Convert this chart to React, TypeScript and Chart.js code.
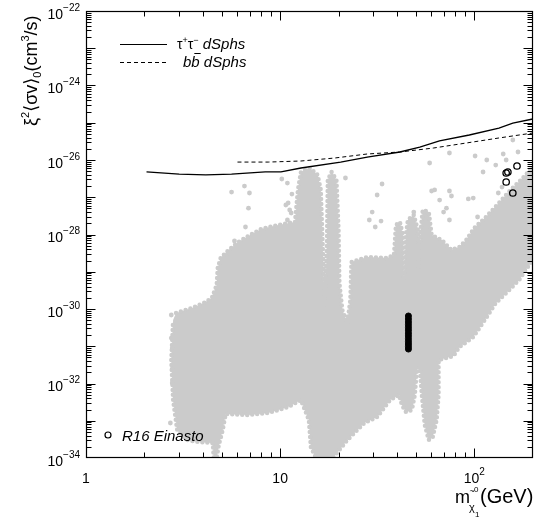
import React, { useEffect, useRef } from 'react';
import { Chart, registerables } from 'chart.js';

Chart.register(...registerables);

// ---- axis ranges / ticks ----
const massRange = [1, 200];
const sigmaRange = [1e-34, 1e-22];
const xLabelValues = [1, 10, 100];
const xLabelBase = ['1', '10', '10'];
const xLabelExp = ['', '', '2'];
const yLabelValues = [1e-22, 1e-24, 1e-26, 1e-28, 1e-30, 1e-32, 1e-34];
const yLabelExp = ['\u221222', '\u221224', '\u221226', '\u221228', '\u221230', '\u221232', '\u221234'];
const yDecades = [-34, -33, -32, -31, -30, -29, -28, -27, -26, -25, -24, -23, -22];
const xDecades = [0, 1, 2];

// ---- dSphs limits ----
const tauMass = [2.05, 3.02, 4.14, 5.62, 8.38, 10.1, 12.8, 20.5, 28.1, 41.4, 52.4, 66.2, 94.3, 134, 158, 200];
const tauSigma = [4.8e-27, 4.2e-27, 4.0e-27, 4.2e-27, 4.8e-27, 4.8e-27, 6.1e-27, 8.8e-27, 1.2e-26, 1.64e-26, 2.23e-26, 3.24e-26, 4.69e-26, 7.22e-26, 9.8e-26, 1.26e-25];
const bbMass = [6.03, 8.69, 12.8, 19.1, 28.1, 41.4, 61.8, 91, 134, 200];
const bbSigma = [8.8e-27, 8.8e-27, 9.4e-27, 1.13e-26, 1.45e-26, 1.64e-26, 2.1e-26, 2.86e-26, 3.9e-26, 5.3e-26];

// ---- R16 Einasto points ----
const einastoMass = [146, 149, 146, 166, 158];
const einastoSigma = [4.48e-27, 4.76e-27, 2.57e-27, 6.9e-27, 1.3e-27];
const bandMass = [45.8, 45.8, 45.8, 45.8, 45.8, 45.8, 45.8, 45.8, 45.8, 45.8, 45.8, 45.8, 45.8];
const bandSigma = [6.5e-31, 5.4e-31, 4.5e-31, 3.8e-31, 3.2e-31, 2.7e-31, 2.25e-31, 1.9e-31, 1.6e-31, 1.35e-31, 1.15e-31, 9.8e-32, 8.4e-32];

// ---- scan cloud outline (gray region) ----
const cloudMass = [2.91, 3.52, 4.05, 4.45, 4.71, 4.77, 4.94, 5.43, 6.10, 6.87, 8.00, 9.77, 11.93,
  12.35, 12.8, 14.2, 15.6, 16.2, 16.6, 16.97, 17.4, 17.6, 18.4, 19.5, 20.0,
  20.2, 20.9, 22.2, 23.0, 23.3, 28.1, 35.6, 38.6,
  39.5, 41.4, 42.9, 43.4, 44.5, 45.5, 48.8, 51.2, 51.8, 53.0, 54.3, 58.3,
  60.3, 67.9, 76.3, 83.8, 91.0, 100, 115, 134, 154, 174, 200,
  200, 184, 170, 146, 129, 115, 98.8, 83.8, 78.2, 65.5,
  65.5, 64.0, 61.1, 58.3, 55.6, 53.7, 52.4, 50.6, 49.4, 47.7, 44.5, 42.4, 41.0,
  36.8, 31.6, 27.1, 22.2, 19.8, 18.6, 15.3, 14.4, 14.06, 12.8, 10.98, 8.69,
  6.87, 5.24, 5.06, 4.83, 4.71, 4.55, 4.50, 3.82, 3.31, 2.95, 2.81, 2.75, 2.81];
const cloudSigma = [7.8e-31, 1.06e-30, 1.45e-30, 1.97e-30, 4.4e-30, 1.26e-29, 2.34e-29, 3.84e-29, 6.3e-29, 9.1e-29, 1.41e-28, 1.8e-28, 2.17e-28,
  1.57e-27, 4.76e-27, 6.1e-27, 3.96e-27, 1.57e-27, 3.84e-29, 1.28e-30, 3.84e-29, 2.9e-27, 4.76e-27, 2.9e-27, 1.32e-28,
  4.99e-30, 9.4e-31, 4.2e-31, 1.75e-30, 1.83e-29, 2.49e-29, 2.34e-29, 2.82e-29,
  1.8e-28, 2.17e-28, 9.7e-29, 6.0e-30, 9.7e-29, 2.45e-28, 3.34e-28, 1.32e-28, 1.26e-29, 1.32e-28, 4.55e-28, 4.0e-28,
  9.7e-29, 7.1e-29, 3.84e-29, 4.6e-29, 7.1e-29, 1.49e-28, 2.95e-28, 7.0e-28, 1.57e-27, 2.9e-27, 6.5e-27,
  2.07e-29, 1.11e-29, 6.0e-30, 2.69e-30, 1.45e-30, 5.7e-31, 1.77e-31, 9.5e-32, 5.5e-32, 4.28e-32,
  4.9e-33, 1.05e-33, 3.66e-34, 3.04e-34, 7.7e-34, 4.9e-33, 2.77e-32, 2.3e-32, 4.9e-33, 1.95e-33, 1.72e-33, 2.65e-33, 4.9e-33,
  3.6e-33, 1.26e-33, 8.7e-34, 3.04e-34, 1.45e-34, 1.0e-34, 1.0e-34, 1.97e-34, 1.05e-33, 3.6e-33, 2.34e-33, 1.62e-33,
  1.43e-33, 1.52e-33, 5.6e-34, 2.23e-34, 1.0e-34, 1.0e-34, 2.53e-34, 2.69e-34, 3.04e-34, 5.6e-34, 3.6e-33, 4.28e-32, 5.07e-31];

// ---- isolated scan points outside the dense cloud ----
const dotMass = [5.62, 6.55, 6.95, 6.87, 6.63, 5.82, 5.43,
  10.2, 10.9, 11.5, 10.7, 11.2, 10.9, 11.0, 11.4,
  2.75, 2.75, 2.78, 2.78, 2.78, 2.72,
  21.7, 33.5, 31.6, 29.8, 28.8, 30.9, 33.1,
  58.9, 74.5, 101, 116, 141, 158, 168,
  60.3, 62.5, 74.5, 66.3, 76.3, 93.2, 98.8, 111, 129, 146, 133, 139,
  48.8, 69.5, 71.9, 74.5, 104];
const dotSigma = [1.38e-27, 2.0e-27, 1.3e-27, 5.1e-28, 1.59e-28, 6.7e-29, 3.18e-29,
  3.09e-27, 2.4e-27, 1.22e-27, 6.2e-28, 4.55e-28, 2.45e-28, 7.0e-28, 3.78e-28,
  6.9e-31, 1.66e-31, 9.0e-32, 2.45e-32, 1.03e-32, 8.7e-34,
  3.29e-27, 2.27e-27, 1.15e-27, 4.0e-28, 2.45e-28, 1.59e-28, 2.3e-28,
  8.3e-27, 1.54e-26, 1.28e-26, 1.0e-26, 1.45e-26, 3.44e-26, 1.64e-26,
  1.47e-27, 1.57e-27, 1.47e-27, 8.4e-28, 1.08e-27, 9.0e-28, 9.5e-28, 4.76e-27, 7.3e-27, 1.0e-26, 1.3e-27, 1.88e-27,
  4.0e-28, 4.0e-28, 5.1e-28, 2.45e-28, 2.95e-28];

const legendTau = ['\u03c4', '+', '\u03c4', '\u2212', ' dSphs'];
const legendBb = ['b', 'b', ' dSphs'];
const legendEinasto = 'R16 Einasto';

const GRAY = '#cbcbcb';
const FONT = '"Liberation Sans", "DejaVu Sans", Arial, sans-serif';

type Run = { t: string; size: number; dy?: number; italic?: boolean };

const pts = (xs: number[], ys: number[]) => xs.map((x, i) => ({ x, y: ys[i] }));

function setFont(ctx: CanvasRenderingContext2D, r: Run) {
  ctx.font = `${r.italic ? 'italic ' : ''}${r.size}px ${FONT}`;
}
function runsWidth(ctx: CanvasRenderingContext2D, runs: Run[]) {
  let w = 0;
  for (const r of runs) { setFont(ctx, r); w += ctx.measureText(r.t).width; }
  return w;
}
function drawRuns(ctx: CanvasRenderingContext2D, runs: Run[], x: number, y: number) {
  let cx = x;
  const pos: number[] = [];
  for (const r of runs) {
    setFont(ctx, r);
    pos.push(cx);
    ctx.fillText(r.t, cx, y + (r.dy || 0));
    cx += ctx.measureText(r.t).width;
  }
  pos.push(cx);
  return pos;
}

const decorPlugin = {
  id: 'decor',
  afterDraw(chart: any) {
    const { ctx, chartArea: a, scales } = chart;
    const xs = scales.x, ys = scales.y;
    ctx.save();
    ctx.fillStyle = '#000';
    ctx.strokeStyle = '#000';
    ctx.lineWidth = 1;
    ctx.textBaseline = 'alphabetic';
    ctx.textAlign = 'left';
    const L = Math.round(a.left) + 0.5, R = Math.round(a.right) - 0.5;
    const T = Math.round(a.top) + 0.5, B = Math.round(a.bottom) - 0.5;
    ctx.lineWidth = 1.2;
    ctx.strokeRect(L, T, R - L, B - T);
    ctx.lineWidth = 1;
    ctx.beginPath();
    // x ticks (bottom and top, pointing inward)
    for (const d of xDecades) {
      for (let k = 1; k <= 9; k++) {
        const v = k * Math.pow(10, d);
        if (v <= massRange[0] || v >= massRange[1]) continue;
        const px = Math.round(xs.getPixelForValue(v)) + 0.5;
        const len = k === 1 ? 9 : 5;
        ctx.moveTo(px, B); ctx.lineTo(px, B - len);
        ctx.moveTo(px, T); ctx.lineTo(px, T + len);
      }
    }
    // y ticks (left and right, pointing inward)
    for (const d of yDecades) {
      for (let k = 1; k <= 9; k++) {
        const v = k * Math.pow(10, d);
        if (v <= sigmaRange[0] || v >= sigmaRange[1]) continue;
        const py = Math.round(ys.getPixelForValue(v)) + 0.5;
        const len = k === 1 ? 9 : 5;
        ctx.moveTo(L, py); ctx.lineTo(L + len, py);
        ctx.moveTo(R, py); ctx.lineTo(R - len, py);
      }
    }
    ctx.stroke();

    // y tick labels
    yLabelValues.forEach((v, i) => {
      const py = ys.getPixelForValue(v);
      const runs: Run[] = [{ t: '10', size: 14 }, { t: yLabelExp[i], size: 10, dy: -8 }];
      const w = runsWidth(ctx, runs);
      drawRuns(ctx, runs, 80 - w, py + 7.5);
    });
    // x tick labels
    xLabelValues.forEach((v, i) => {
      const px = xs.getPixelForValue(v);
      const runs: Run[] = [{ t: xLabelBase[i], size: 14 }];
      if (xLabelExp[i]) runs.push({ t: xLabelExp[i], size: 10, dy: -8 });
      const w = runsWidth(ctx, runs);
      drawRuns(ctx, runs, px - w / 2, 483);
    });

    // y axis title
    ctx.save();
    ctx.translate(37, 126);
    ctx.rotate(-Math.PI / 2);
    drawRuns(ctx, [
      { t: '\u03be', size: 18 }, { t: '2', size: 11, dy: -8 },
      { t: '\u27e8\u03c3v\u27e9', size: 18 }, { t: '0', size: 11, dy: 4 },
      { t: '(cm', size: 18 }, { t: '3', size: 11, dy: -8 }, { t: '/s)', size: 18 },
    ], 0, 0);
    ctx.restore();

    // x axis title
    setFont(ctx, { t: 'm', size: 18 });
    ctx.fillText('m', 455, 503);
    const mW = ctx.measureText('m').width;
    const sx = 455 + mW - 1;
    ctx.font = `11px ${FONT}`;
    ctx.fillText('\u03c7', sx, 511);
    ctx.font = `9px ${FONT}`;
    ctx.fillText('~', sx + 0.5, 494);
    ctx.font = `8px ${FONT}`;
    ctx.fillText('0', sx + 5, 492);
    ctx.fillText('1', sx + 6, 517);
    setFont(ctx, { t: '(GeV)', size: 20 });
    ctx.fillText('(GeV)', sx + 11, 503);

    // legend: dSphs lines
    ctx.beginPath();
    ctx.lineWidth = 1.2;
    ctx.moveTo(120, 44.5); ctx.lineTo(167, 44.5);
    ctx.stroke();
    ctx.beginPath();
    ctx.lineWidth = 1;
    ctx.setLineDash([4, 3]);
    ctx.moveTo(120, 62.5); ctx.lineTo(167, 62.5);
    ctx.stroke();
    ctx.setLineDash([]);
    drawRuns(ctx, [
      { t: legendTau[0], size: 14 }, { t: legendTau[1], size: 9, dy: -6 },
      { t: legendTau[2], size: 14 }, { t: legendTau[3], size: 9, dy: -6 },
      { t: legendTau[4], size: 15, italic: true },
    ], 177, 49);
    const bpos = drawRuns(ctx, [
      { t: legendBb[0], size: 15, italic: true }, { t: legendBb[1], size: 15, italic: true },
      { t: legendBb[2], size: 15, italic: true },
    ], 183, 67);
    // overline of anti-b
    ctx.beginPath();
    ctx.lineWidth = 1;
    ctx.moveTo(bpos[1] + 3, 53.5); ctx.lineTo(bpos[2] + 1, 53.5);
    ctx.stroke();

    // legend: R16 Einasto
    ctx.beginPath();
    ctx.lineWidth = 1.2;
    ctx.arc(108, 435, 3, 0, Math.PI * 2);
    ctx.stroke();
    ctx.font = `italic 15px ${FONT}`;
    ctx.fillText(legendEinasto, 122, 441);
    ctx.restore();
  },
};

export default function App() {
  const ref = useRef<HTMLCanvasElement | null>(null);
  useEffect(() => {
    if (!ref.current) return;
    const chart = new Chart(ref.current, {
      type: 'line',
      data: {
        datasets: [
          {
            type: 'line', label: 'tau', data: pts(tauMass, tauSigma),
            borderColor: '#000', borderWidth: 1.3, pointRadius: 0, fill: false, order: 0,
          } as any,
          {
            type: 'line', label: 'bb', data: pts(bbMass, bbSigma),
            borderColor: '#000', borderWidth: 1, borderDash: [4, 3], pointRadius: 0, fill: false, order: 1,
          },
          {
            type: 'scatter', label: 'einasto', data: pts(einastoMass, einastoSigma),
            pointRadius: 3.2, borderColor: '#000', borderWidth: 1.3, backgroundColor: 'rgba(0,0,0,0)', order: 2,
          },
          {
            type: 'scatter', label: 'band', data: pts(bandMass, bandSigma),
            pointRadius: 3, borderColor: '#000', borderWidth: 1, backgroundColor: '#000', order: 3,
          },
          {
            type: 'scatter', label: 'dots', data: pts(dotMass, dotSigma),
            pointRadius: 2.4, borderWidth: 0, backgroundColor: GRAY, order: 4,
          },
          {
            type: 'line', label: 'cloud', data: pts(cloudMass, cloudSigma),
            borderColor: GRAY, borderWidth: 4.5, borderDash: [0, 5], borderCapStyle: 'round',
            backgroundColor: GRAY, fill: 'shape',
            pointRadius: 0, tension: 0, order: 5,
          },
        ],
      },
      options: {
        responsive: false,
        animation: false,
        events: [],
        devicePixelRatio: 1,
        layout: { padding: { left: 86, top: 11, right: 1, bottom: 62 } },
        plugins: { legend: { display: false }, tooltip: { enabled: false } },
        scales: {
          x: { type: 'logarithmic', min: massRange[0], max: massRange[1], display: false },
          y: { type: 'logarithmic', min: sigmaRange[0], max: sigmaRange[1], display: false },
        },
      },
      plugins: [decorPlugin],
    } as any);
    return () => chart.destroy();
  }, []);
  return (
    <div style={{ position: 'fixed', left: 0, top: 0, width: 538, height: 520, background: '#fff' }}>
      <canvas ref={ref} width={538} height={520} style={{ display: 'block' }} />
    </div>
  );
}
